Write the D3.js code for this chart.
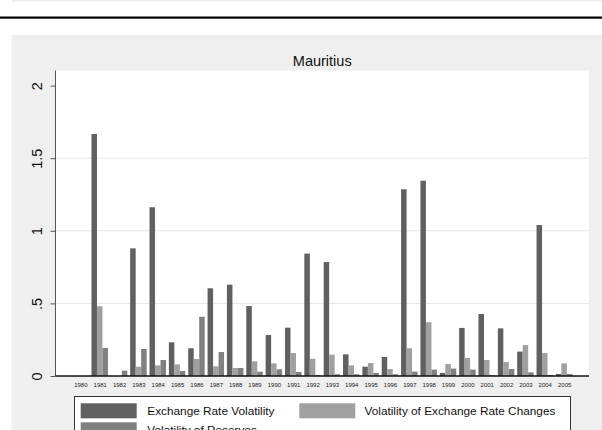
<!DOCTYPE html>
<html>
<head>
<meta charset="utf-8">
<script src="https://cdn.jsdelivr.net/npm/d3@7"></script>
<style>
  html, body { margin: 0; padding: 0; background: #ffffff; }
  svg { display: block; font-family: "Liberation Sans", Arial, Helvetica, sans-serif; }
</style>
</head>
<body>
<svg id="chart" width="602" height="430"></svg>
<script>
// Mauritius: volatility measures by year
const years = ["1980","1981","1982","1983","1984","1985","1986","1987","1988","1989",
               "1990","1991","1992","1993","1994","1995","1996","1997","1998","1999",
               "2000","2001","2002","2003","2004","2005"];

const exchangeRateVolatility = [0, 1.667, 0, 0.879, 1.162, 0.232, 0.191, 0.604, 0.629, 0.482,
                                0.282, 0.333, 0.843, 0.785, 0.149, 0.064, 0.131, 1.286, 1.345, 0.021,
                                0.331, 0.427, 0.328, 0.168, 1.040, 0.014];
const volatilityOfChanges    = [0, 0.480, 0, 0.064, 0.073, 0.080, 0.117, 0.067, 0.055, 0.101,
                                0.087, 0.158, 0.119, 0.147, 0.073, 0.089, 0.048, 0.191, 0.370, 0.083,
                                0.124, 0.110, 0.096, 0.213, 0.158, 0.087];
const volatilityOfReserves   = [0, 0.193, 0.037, 0.186, 0.110, 0.034, 0.408, 0.165, 0.055, 0.030,
                                0.046, 0.028, 0.007, 0.012, 0.012, 0.021, 0.012, 0.030, 0.044, 0.051,
                                0.044, 0.007, 0.048, 0.025, 0.007, 0.014];

const seriesNames = ["Exchange Rate Volatility", "Volatility of Exchange Rate Changes", "Volatility of Reserves"];
const seriesColors = ["#606060", "#a0a0a0", "#808080"];
const yTicks = [0, 0.5, 1, 1.5, 2];
const yTickLabels = ["0", ".5", "1", "1.5", "2"];

const series = [exchangeRateVolatility, volatilityOfChanges, volatilityOfReserves];

const svg = d3.select("#chart");

// page furniture: strip of the panel above, separator rule, graph region
svg.append("rect").attr("x", 12).attr("y", 0).attr("width", 590).attr("height", 1.5).attr("fill", "#ececec");
svg.append("rect").attr("x", 0).attr("y", 16.5).attr("width", 602).attr("height", 2.2).attr("fill", "#000");
svg.append("rect").attr("x", 11.5).attr("y", 35).attr("width", 591).attr("height", 400).attr("fill", "#efefef");

const plot = { left: 55.5, right: 589, top: 70.5, bottom: 376 };

svg.append("rect")
  .attr("x", plot.left).attr("y", plot.top)
  .attr("width", plot.right - plot.left).attr("height", plot.bottom - plot.top)
  .attr("fill", "#ffffff");

const y = d3.scaleLinear().domain([0, 2]).range([plot.bottom, plot.bottom - 2 * 145.2]);

const x = d3.scalePoint().domain(years).range([plot.left, plot.right]).padding(1.285);
const step = x.step();
const groupWidth = step * 0.852;
const xInner = d3.scaleBand().domain(d3.range(series.length)).range([-groupWidth / 2, groupWidth / 2]).padding(0);

// horizontal grid lines (not drawn at the axis ends)
svg.append("g")
  .selectAll("line")
  .data(yTicks.filter(t => t > 0 && t < 2))
  .join("line")
  .attr("x1", plot.left).attr("x2", plot.right)
  .attr("y1", d => y(d)).attr("y2", d => y(d))
  .attr("stroke", "#e6e6e6").attr("stroke-width", 1);

// bars
series.forEach((vals, si) => {
  svg.append("g")
    .selectAll("rect")
    .data(years.map((yr, i) => ({ yr, v: vals[i] })).filter(d => d.v > 0))
    .join("rect")
    .attr("x", d => x(d.yr) + xInner(si))
    .attr("width", xInner.bandwidth())
    .attr("y", d => y(d.v))
    .attr("height", d => y(0) - y(d.v))
    .attr("fill", seriesColors[si]);
});

// y axis
const yAxis = d3.axisLeft(y).tickValues(yTicks).tickSize(5).tickPadding(4)
  .tickFormat((d, i) => yTickLabels[i]);
const gy = svg.append("g").attr("transform", `translate(${plot.left},0)`).call(yAxis);
gy.select(".domain").attr("stroke", "#555").attr("d", `M0,${plot.top}V${plot.bottom}`);
gy.selectAll(".tick line").attr("stroke", "#555");
gy.selectAll(".tick text")
  .attr("x", null).attr("dy", null)
  .attr("transform", "translate(-14,0) rotate(-90)")
  .attr("text-anchor", "middle")
  .attr("fill", "#111")
  .attr("font-size", 14.5);

// x axis: labels only, with baseline
const xAxis = d3.axisBottom(x).tickSize(0).tickPadding(7);
const gx = svg.append("g").attr("transform", `translate(0,${plot.bottom})`).call(xAxis);
gx.select(".domain").attr("stroke", "#111").attr("stroke-width", 1.6)
  .attr("d", `M${plot.left},0H${plot.right}`);
gx.selectAll(".tick text").attr("font-size", 6).attr("fill", "#222");

// title
svg.append("text")
  .attr("x", (plot.left + plot.right) / 2).attr("y", 66)
  .attr("text-anchor", "middle")
  .attr("font-size", 14.5).attr("fill", "#111")
  .text("Mauritius");

// legend
const legend = svg.append("g");
legend.append("rect")
  .attr("x", 74.5).attr("y", 396.5).attr("width", 496).attr("height", 60)
  .attr("fill", "#fff").attr("stroke", "#333").attr("stroke-width", 1);

const legendItems = [
  { i: 0, sx: 80.7, tx: 147.3, row: 0 },
  { i: 1, sx: 299.3, tx: 364.5, row: 0 },
  { i: 2, sx: 80.7, tx: 147.3, row: 1 }
];
legendItems.forEach(it => {
  const top = 403.3 + it.row * 19;
  legend.append("rect")
    .attr("x", it.sx).attr("y", top).attr("width", 56).attr("height", 15)
    .attr("fill", seriesColors[it.i]);
  legend.append("text")
    .attr("x", it.tx).attr("y", top + 12)
    .attr("font-size", 11.8).attr("fill", "#111")
    .text(seriesNames[it.i]);
});
</script>
</body>
</html>
